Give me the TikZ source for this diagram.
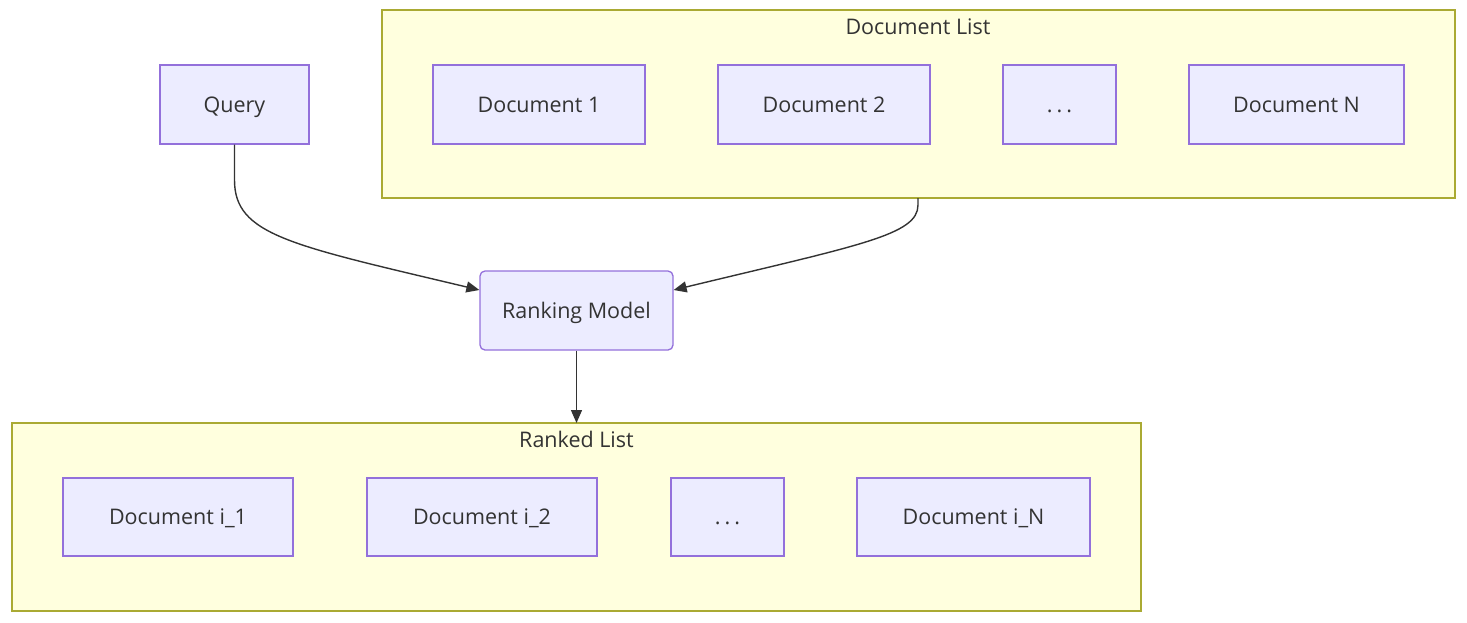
\documentclass[tikz,border=0pt]{standalone}
\usepackage{fontspec}
\setmainfont{Open Sans}
\usetikzlibrary{arrows.meta}
\definecolor{nodefill}{HTML}{ECECFF}
\definecolor{nodestroke}{HTML}{9370DB}
\definecolor{clfill}{HTML}{FFFFDE}
\definecolor{clstroke}{HTML}{AAAA33}
\definecolor{txt}{HTML}{333333}
\newcommand{\dotsx}{.\hspace{4pt}.\hspace{4pt}.}
\tikzset{
  box/.style={draw=nodestroke, fill=nodefill, line width=1.3pt, text=txt, inner sep=0pt, text height=17pt, text depth=2pt, font=\fontsize{21.5}{25}\selectfont},
  cluster/.style={draw=clstroke, fill=clfill, line width=1.3pt},
  ctitle/.style={text=txt, inner sep=0pt, text height=17pt, text depth=2pt, font=\fontsize{21.5}{25}\selectfont},
  edge/.style={draw=txt, line width=1.4pt, -{Stealth[length=13pt,width=11pt,inset=0pt]}}
}
\begin{document}
\begin{tikzpicture}[x=1pt,y=-1pt]
\useasboundingbox (0,0) rectangle (1467,622);
% clusters
\draw[cluster] (382,10) rectangle (1455,198);
\coordinate (dlbot) at (918,198);
\node[ctitle] (dltitle) at (918,27) {Document List};
\draw[cluster] (12,423) rectangle (1141,611);
\coordinate (rltop) at (576.5,423);
\node[ctitle] (rltitle) at (576.5,440) {Ranked List};
% nodes
\node[box, minimum width=149pt, minimum height=79pt] (q) at (234.5,104.5) {Query};
\node[box, minimum width=212pt, minimum height=79pt] (d1) at (539,104.5) {Document 1};
\node[box, minimum width=212pt, minimum height=79pt] (d2) at (824,104.5) {Document 2};
\node[box, minimum width=113pt, minimum height=79pt] (dd) at (1059.5,104.5) {\dotsx};
\node[box, minimum width=215pt, minimum height=79pt] (dn) at (1296.5,104.5) {Document N};
\node[box, rounded corners=5pt, minimum width=193pt, minimum height=79pt] (rm) at (576.5,310.5) {Ranking Model};
\node[box, minimum width=230pt, minimum height=78pt] (r1) at (178,517) {Document i\_1};
\node[box, minimum width=230pt, minimum height=78pt] (r2) at (482,517) {Document i\_2};
\node[box, minimum width=113pt, minimum height=78pt] (rd) at (727.5,517) {\dotsx};
\node[box, minimum width=233pt, minimum height=78pt] (rn) at (973.5,517) {Document i\_N};
% edges
\draw[edge] (q.south) -- (234.5,180) .. controls (234.5,235) and (290,245) .. (rm.west |- 0,290);
\draw[edge] (dlbot) -- (918,205) .. controls (918,235) and (860,245) .. (rm.east |- 0,290);
\draw[edge] (rm.south) -- (rltop);
\end{tikzpicture}
\end{document}
